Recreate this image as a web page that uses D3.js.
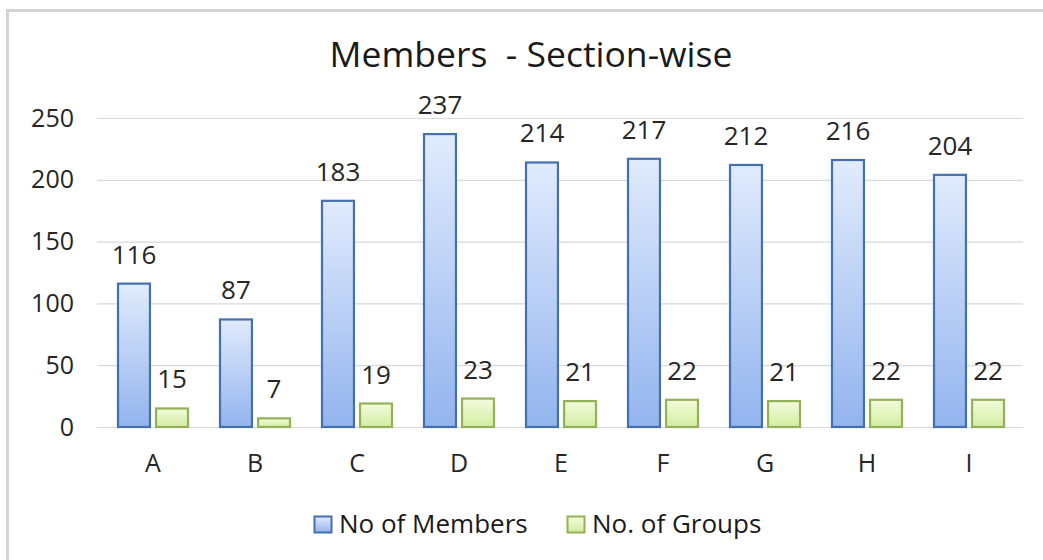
<!DOCTYPE html>
<html>
<head>
<meta charset="utf-8">
<script src="https://cdn.jsdelivr.net/npm/d3@7"></script>
<style>
  html, body { margin: 0; padding: 0; background: #fff; }
  svg { display: block; font-family: "Open Sans", "Noto Sans", sans-serif; }
</style>
</head>
<body>
<svg id="chart" width="1043" height="560"></svg>
<script>
const categories = ["A", "B", "C", "D", "E", "F", "G", "H", "I"];
const members = [116, 87, 183, 237, 214, 217, 212, 216, 204];
const groups = [15, 7, 19, 23, 21, 22, 21, 22, 22];
const seriesNames = ["No of Members", "No. of Groups"];
const yTicks = [0, 50, 100, 150, 200, 250];
const titleText = "Members  - Section-wise";

const svg = d3.select("#chart");

// gradients
const defs = svg.append("defs");
function grad(id, top, bottom) {
  const g = defs.append("linearGradient").attr("id", id)
    .attr("x1", 0).attr("y1", 0).attr("x2", 0).attr("y2", 1);
  g.append("stop").attr("offset", "0%").attr("stop-color", top);
  g.append("stop").attr("offset", "100%").attr("stop-color", bottom);
}
grad("gBlue", "#e1ebfc", "#93b4ee");
grad("gGreen", "#f3fbdc", "#d3eda0");
const fills = ["url(#gBlue)", "url(#gGreen)"];
const strokes = ["#4470b0", "#93b257"];

// frame
svg.append("rect").attr("x", 7.5).attr("y", 10.5).attr("width", 1100).attr("height", 600)
  .attr("fill", "#fff").attr("stroke", "#d4d4d4").attr("stroke-width", 3);

// scales
const y = d3.scaleLinear().domain([0, 250]).range([427, 118]);
const x = d3.scaleBand().domain(categories).range([102, 1020]).padding(0);
const x1 = d3.scaleBand().domain(seriesNames).range([16, 86]).paddingInner(0.16);

// y axis with gridlines
const yAxis = svg.append("g").attr("transform", "translate(97,0)")
  .call(d3.axisLeft(y).tickValues(yTicks).tickSize(-926).tickPadding(23));
yAxis.select(".domain").remove();
yAxis.selectAll(".tick line").attr("stroke", "#d9d9d9").attr("stroke-width", 1.2);
yAxis.selectAll(".tick text").attr("font-size", 25).attr("fill", "#262626")
  .attr("font-family", "'Open Sans', sans-serif");

// x axis
const xAxis = svg.append("g").attr("transform", "translate(0,427)")
  .call(d3.axisBottom(x).tickSize(0).tickPadding(27));
xAxis.select(".domain").remove();
xAxis.selectAll(".tick text").attr("font-size", 25).attr("fill", "#262626")
  .attr("font-family", "'Open Sans', sans-serif");

// bars
const data = categories.map((c, i) => ({ cat: c, vals: [members[i], groups[i]] }));
const grp = svg.append("g").selectAll("g").data(data).join("g")
  .attr("transform", d => `translate(${x(d.cat)},0)`);

grp.selectAll("rect").data(d => d.vals.map((v, k) => ({ v, k })))
  .join("rect")
  .attr("x", d => x1(seriesNames[d.k]))
  .attr("y", d => y(d.v))
  .attr("width", x1.bandwidth())
  .attr("height", d => y(0) - y(d.v))
  .attr("fill", d => fills[d.k])
  .attr("stroke", d => strokes[d.k])
  .attr("stroke-width", 2.2);

grp.selectAll("text").data(d => d.vals.map((v, k) => ({ v, k })))
  .join("text")
  .attr("x", d => x1(seriesNames[d.k]) + x1.bandwidth() / 2)
  .attr("y", d => y(d.v) - 20)
  .attr("text-anchor", "middle")
  .attr("font-size", 26)
  .attr("fill", "#262626")
  .text(d => d.v);

// title
svg.append("text").attr("x", 531).attr("y", 67).attr("text-anchor", "middle")
  .attr("font-size", 35.5).attr("fill", "#1a1a1a")
  .style("white-space", "pre")
  .text(titleText);

// legend
const legendX = [314, 567];
const leg = svg.append("g").selectAll("g").data(seriesNames).join("g")
  .attr("transform", (d, i) => `translate(${legendX[i]},516)`);
leg.append("rect").attr("x", 0.5).attr("y", 0.5).attr("width", 17).attr("height", 16)
  .attr("fill", (d, i) => fills[i]).attr("stroke", (d, i) => strokes[i]).attr("stroke-width", 2);
leg.append("text").attr("x", 25).attr("y", 17).attr("font-size", 26).attr("fill", "#1a1a1a")
  .text(d => d);
</script>
</body>
</html>
